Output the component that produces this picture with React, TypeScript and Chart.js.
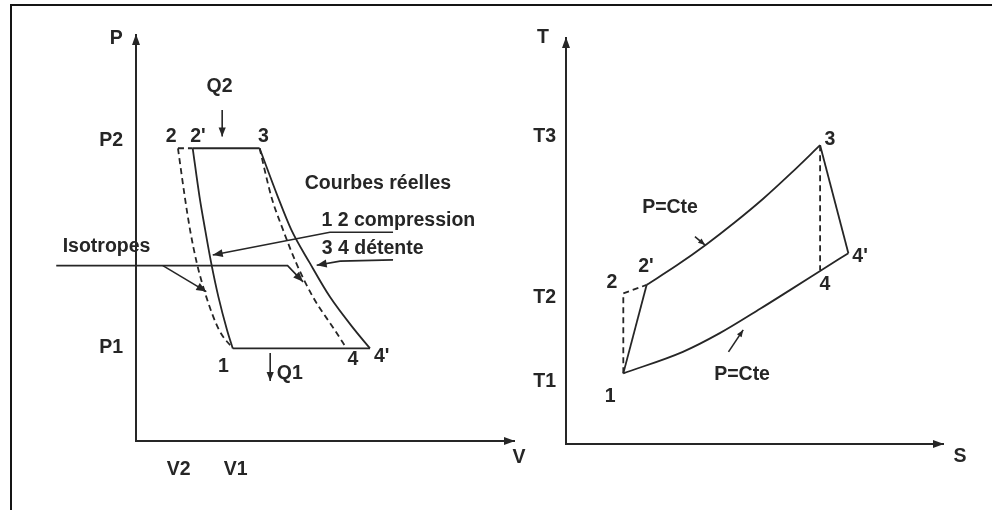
import React, { useEffect, useRef } from 'react';
import { Chart, registerables } from 'chart.js';

Chart.register(...registerables);

const FONT = '"Liberation Sans", Arial, Helvetica, sans-serif';
const INK = '#262626';
const FONT_SIZE = 19.5;

// ---------- P–V diagram (left) ----------
const pvTickV = [11.3, 26.4];
const pvTickVLabels = ['V2', 'V1'];
const pvTickP = [22.9, 74.1];
const pvTickPLabels = ['P1', 'P2'];

// real compression 2' -> 1
const pvRealCompV = [15.0, 16.8, 18.3, 19.9, 21.8, 24.1, 25.6];
const pvRealCompP = [72.1, 60.2, 52.0, 43.8, 35.5, 27.3, 22.8];
// isentropic compression 2 -> 1 (dashed)
const pvIsenCompV = [11.1, 12.9, 14.3, 16.1, 18.6, 22.0, 25.6];
const pvIsenCompP = [72.1, 60.2, 52.0, 43.8, 35.5, 27.3, 22.8];
// real expansion 3 -> 4'
const pvRealExpV = [32.7, 37.5, 41.1, 46.0, 51.3, 57.9, 61.9];
const pvRealExpP = [72.1, 60.2, 52.0, 43.8, 35.5, 27.3, 22.8];
// isentropic expansion 3 -> 4 (dashed)
const pvIsenExpV = [32.7, 35.8, 38.9, 42.4, 46.8, 52.6, 55.7];
const pvIsenExpP = [72.1, 60.2, 52.0, 43.8, 35.5, 27.3, 22.8];
// isobars
const pvHighSolidV = [15.0, 32.7];
const pvHighDashV = [11.1, 15.0];
const pvHighP = [72.1, 72.1];
const pvLowV = [25.6, 61.9];
const pvLowP = [22.8, 22.8];

// text annotations
const pvTextLabels = ['P', 'V', 'Q2', 'Q1', '2', "2'", '3', '1', '4', "4'", 'Courbes réelles', '1 2 compression', '3 4 détente', 'Isotropes'];
const pvTextV = [-5.2, 101.3, 22.1, 40.7, 9.3, 16.4, 33.7, 23.1, 57.4, 65.0, 64.0, 69.4, 62.6, -7.8];
const pvTextP = [99.2, -4.2, 87.2, 16.5, 74.9, 74.9, 74.9, 18.2, 20.0, 20.9, 63.3, 54.4, 47.5, 47.8];

// arrows (polylines ending with a head)
const pvArrowQ2V = [22.8, 22.8];
const pvArrowQ2P = [81.5, 75.0];
const pvArrowQ1V = [35.5, 35.5];
const pvArrowQ1P = [21.7, 14.8];
const pvArrowCompV = [68.0, 51.3, 20.3];
const pvArrowCompP = [51.4, 51.4, 45.8];
const pvArrowDetV = [68.0, 54.0, 47.8];
const pvArrowDetP = [44.6, 44.3, 43.3];
const pvArrowIso1V = [-21.1, 40.1, 44.2];
const pvArrowIso1P = [43.2, 43.2, 39.2];
const pvArrowIso2V = [7.1, 18.6];
const pvArrowIso2P = [43.2, 36.8];

// ---------- T–S diagram (right) ----------
const tsTickT = [15.3, 36.0, 75.6];
const tsTickTLabels = ['T1', 'T2', 'T3'];

// high pressure isobar 2' -> 3
const tsHighS = [21.4, 29.4, 37.3, 44.8, 52.3, 59.7, 67.4];
const tsHighT = [39.2, 44.0, 49.2, 54.6, 60.4, 66.7, 73.6];
// low pressure isobar 1 -> 4'
const tsLowS = [15.2, 31.0, 40.8, 51.5, 59.4, 67.4, 74.9];
const tsLowT = [17.4, 22.7, 27.3, 33.3, 37.9, 42.6, 47.0];
// real compression 1 -> 2', real expansion 3 -> 4'
const tsRealCompS = [15.2, 21.4];
const tsRealCompT = [17.4, 39.2];
const tsRealExpS = [67.4, 74.9];
const tsRealExpT = [73.6, 47.0];
// isentropic lines (dashed): 1 -> 2 -> 2', 3 -> 4
const tsIsenCompS = [15.2, 15.2, 21.4];
const tsIsenCompT = [17.4, 37.1, 39.2];
const tsIsenExpS = [67.4, 67.4];
const tsIsenExpT = [73.6, 42.8];

const tsTextLabels = ['T', 'S', '1', '2', "2'", '3', '4', "4'", 'P=Cte', 'P=Cte'];
const tsTextS = [-6.1, 104.5, 11.7, 12.2, 21.2, 70.0, 68.7, 78.0, 27.6, 46.7];
const tsTextT = [100.0, -3.0, 11.6, 39.7, 43.6, 74.9, 39.2, 46.1, 58.1, 17.0];

const tsArrowHighS = [34.2, 36.9];
const tsArrowHighT = [51.1, 49.0];
const tsArrowLowS = [43.1, 47.0];
const tsArrowLowT = [22.7, 28.1];

// ---------- helpers ----------
function pts(xs: number[], ys: number[]) {
  return xs.map((x, i) => ({ x, y: ys[i] }));
}

function line(xs: number[], ys: number[], dashed = false, smooth = false) {
  return {
    data: pts(xs, ys),
    showLine: true,
    pointRadius: 0,
    borderColor: INK,
    borderWidth: 1.8,
    borderDash: dashed ? [6, 4] : [],
    tension: smooth ? 0.4 : 0,
    cubicInterpolationMode: smooth ? 'monotone' : 'default',
    fill: false,
  };
}

function head(ctx: CanvasRenderingContext2D, x1: number, y1: number, x2: number, y2: number, len: number, half: number) {
  const a = Math.atan2(y2 - y1, x2 - x1);
  const bx = x2 - Math.cos(a) * len;
  const by = y2 - Math.sin(a) * len;
  const nx = -Math.sin(a) * half;
  const ny = Math.cos(a) * half;
  ctx.beginPath();
  ctx.moveTo(x2, y2);
  ctx.lineTo(bx + nx, by + ny);
  ctx.lineTo(bx - nx, by - ny);
  ctx.closePath();
  ctx.fill();
}

const annotPlugin = {
  id: 'annot',
  afterDraw(chart: any) {
    const o = chart.options.plugins.annot;
    if (!o) return;
    const ctx: CanvasRenderingContext2D = chart.ctx;
    const xs = chart.scales.x;
    const ys = chart.scales.y;
    const X = (v: number) => xs.getPixelForValue(v);
    const Y = (v: number) => ys.getPixelForValue(v);
    const ca = chart.chartArea;
    ctx.save();
    ctx.fillStyle = INK;
    ctx.strokeStyle = INK;
    // axis arrow heads
    head(ctx, ca.left, ca.top + 20, ca.left, ca.top - 1, 11, 4);
    head(ctx, ca.right - 20, ca.bottom, ca.right + 1, ca.bottom, 11, 4);
    // pointer arrows
    ctx.lineWidth = 1.6;
    for (const a of o.arrows) {
      const ax: number[] = a[0];
      const ay: number[] = a[1];
      const size: number = a[2];
      ctx.beginPath();
      ax.forEach((v, i) => {
        const px = X(v);
        const py = Y(ay[i]);
        if (i === 0) ctx.moveTo(px, py);
        else ctx.lineTo(px, py);
      });
      ctx.stroke();
      const n = ax.length;
      head(ctx, X(ax[n - 2]), Y(ay[n - 2]), X(ax[n - 1]), Y(ay[n - 1]), size, size * 0.4);
    }
    // texts
    ctx.font = `bold ${FONT_SIZE}px ${FONT}`;
    ctx.textAlign = 'center';
    ctx.textBaseline = 'middle';
    o.labels.forEach((t: string, i: number) => {
      ctx.fillText(t, X(o.tx[i]), Y(o.ty[i]));
    });
    ctx.restore();
  },
};

const tickFont = { family: FONT, size: FONT_SIZE, weight: 'bold' as const };

function pvConfig(): any {
  return {
    type: 'scatter',
    data: {
      datasets: [
        line(pvRealCompV, pvRealCompP, false, true),
        line(pvRealExpV, pvRealExpP, false, true),
        line(pvHighSolidV, pvHighP),
        line(pvLowV, pvLowP),
        line(pvIsenCompV, pvIsenCompP, true, true),
        line(pvIsenExpV, pvIsenExpP, true, true),
        line(pvHighDashV, pvHighP, true),
      ],
    },
    options: {
      animation: false,
      responsive: false,
      events: [],
      layout: { padding: { top: 35, right: 16, bottom: 0, left: 0 } },
      plugins: {
        legend: { display: false },
        tooltip: { enabled: false },
        annot: {
          labels: pvTextLabels,
          tx: pvTextV,
          ty: pvTextP,
          arrows: [
            [pvArrowQ2V, pvArrowQ2P, 9],
            [pvArrowQ1V, pvArrowQ1P, 9],
            [pvArrowCompV, pvArrowCompP, 10],
            [pvArrowDetV, pvArrowDetP, 10],
            [pvArrowIso1V, pvArrowIso1P, 10],
            [pvArrowIso2V, pvArrowIso2P, 10],
          ],
        },
      },
      scales: {
        x: {
          type: 'linear',
          min: 0,
          max: 100,
          grid: { display: false, drawTicks: false },
          border: { display: true, color: INK, width: 2 },
          afterBuildTicks: (s: any) => {
            s.ticks = pvTickV.map((value) => ({ value }));
          },
          afterFit: (s: any) => {
            s.height = 69;
          },
          ticks: {
            callback: (_v: any, i: number) => pvTickVLabels[i],
            font: tickFont,
            color: INK,
            padding: 17,
            maxRotation: 0,
            autoSkip: false,
          },
        },
        y: {
          type: 'linear',
          min: 0,
          max: 100,
          grid: { display: false, drawTicks: false },
          border: { display: true, color: INK, width: 2 },
          afterBuildTicks: (s: any) => {
            s.ticks = pvTickP.map((value) => ({ value }));
          },
          afterFit: (s: any) => {
            s.width = 136;
          },
          ticks: {
            callback: (_v: any, i: number) => pvTickPLabels[i],
            font: tickFont,
            color: INK,
            padding: 13,
            autoSkip: false,
          },
        },
      },
    },
    plugins: [annotPlugin],
  };
}

function tsConfig(): any {
  return {
    type: 'scatter',
    data: {
      datasets: [
        line(tsHighS, tsHighT, false, true),
        line(tsLowS, tsLowT, false, true),
        line(tsRealCompS, tsRealCompT),
        line(tsRealExpS, tsRealExpT),
        line(tsIsenCompS, tsIsenCompT, true),
        line(tsIsenExpS, tsIsenExpT, true),
      ],
    },
    options: {
      animation: false,
      responsive: false,
      events: [],
      layout: { padding: { top: 38, right: 49, bottom: 0, left: 0 } },
      plugins: {
        legend: { display: false },
        tooltip: { enabled: false },
        annot: {
          labels: tsTextLabels,
          tx: tsTextS,
          ty: tsTextT,
          arrows: [
            [tsArrowHighS, tsArrowHighT, 7],
            [tsArrowLowS, tsArrowLowT, 7],
          ],
        },
      },
      scales: {
        x: {
          type: 'linear',
          min: 0,
          max: 100,
          grid: { display: false, drawTicks: false },
          border: { display: true, color: INK, width: 2 },
          afterFit: (s: any) => {
            s.height = 66;
          },
          ticks: { display: false },
        },
        y: {
          type: 'linear',
          min: 0,
          max: 100,
          grid: { display: false, drawTicks: false },
          border: { display: true, color: INK, width: 2 },
          afterBuildTicks: (s: any) => {
            s.ticks = tsTickT.map((value) => ({ value }));
          },
          afterFit: (s: any) => {
            s.width = 36;
          },
          ticks: {
            callback: (_v: any, i: number) => tsTickTLabels[i],
            font: tickFont,
            color: INK,
            padding: 10,
            autoSkip: false,
          },
        },
      },
    },
    plugins: [annotPlugin],
  };
}

function Diagram(props: { make: () => any; left: number; width: number; height: number }) {
  const ref = useRef<HTMLCanvasElement | null>(null);
  useEffect(() => {
    if (!ref.current) return;
    const chart = new Chart(ref.current, props.make());
    return () => chart.destroy();
  }, []);
  return (
    <canvas
      ref={ref}
      width={props.width}
      height={props.height}
      style={{ position: 'absolute', left: props.left, top: 0, width: props.width, height: props.height }}
    />
  );
}

export default function App() {
  return (
    <div
      style={{
        position: 'fixed',
        left: 0,
        top: 0,
        width: 992,
        height: 510,
        background: '#ffffff',
        overflow: 'hidden',
      }}
    >
      <div
        style={{
          position: 'absolute',
          left: 10,
          top: 4,
          width: 1000,
          height: 520,
          borderLeft: '2px solid #151515',
          borderTop: '2px solid #151515',
        }}
      />
      <Diagram make={pvConfig} left={0} width={530} height={510} />
      <Diagram make={tsConfig} left={530} width={462} height={510} />
    </div>
  );
}
